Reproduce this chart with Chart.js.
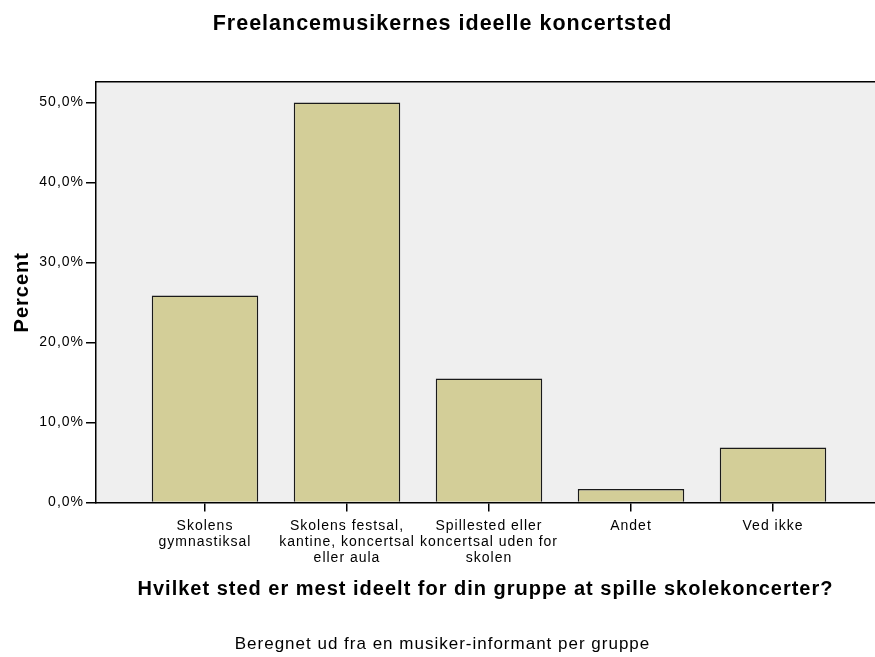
<!DOCTYPE html>
<html>
<head>
<meta charset="utf-8">
<script src="https://cdn.jsdelivr.net/npm/chart.js@4/dist/chart.umd.min.js"></script>
<style>
  html, body { margin: 0; padding: 0; background: #fff; overflow: hidden; }
  #wrap { width: 875px; height: 657px; }
</style>
</head>
<body>
<div id="wrap"><canvas id="chart"></canvas></div>
<script>
let categories = [
    ["Skolens", "gymnastiksal"],
    ["Skolens festsal,", "kantine, koncertsal", "eller aula"],
    ["Spillested eller", "koncertsal uden for", "skolen"],
    ["Andet"],
    ["Ved ikke"]
];
let positions = [1, 2, 3, 4, 5];
let percentValues = [25.9, 50.0, 15.5, 1.7, 6.9];
let yTicks = [0, 10, 20, 30, 40, 50];

let fontFamily = "'Liberation Sans', Arial, sans-serif";

// the reference text is a bit wider than Liberation Sans, so space the letters
let letterSpacing = {
    id: 'letterSpacing',
    beforeUpdate(chart) { chart.ctx.letterSpacing = '1px'; },
    beforeDraw(chart) { chart.ctx.letterSpacing = '1px'; }
};

// grey plot background + top border
let plotBackground = {
    id: 'plotBackground',
    beforeDraw(chart) {
        let ctx = chart.ctx;
        let a = chart.chartArea;
        ctx.save();
        ctx.fillStyle = '#efefef';
        ctx.fillRect(a.left, a.top, a.right - a.left, a.bottom - a.top);
        ctx.strokeStyle = '#000';
        ctx.lineWidth = 1.5;
        ctx.beginPath();
        ctx.moveTo(a.left, a.top);
        ctx.lineTo(a.right, a.top);
        ctx.stroke();
        ctx.restore();
    }
};

window.onload = function() {
    let ctx = document.getElementById("chart").getContext("2d");
    new Chart(ctx, {
        type: 'bar',
        data: {
            datasets: [{
                label: 'Percent',
                data: positions.map((p, i) => ({ x: p, y: percentValues[i] })),
                backgroundColor: '#d3ce98',
                borderColor: '#1a1a1a',
                borderWidth: 1.5,
                barPercentage: 0.75,
                categoryPercentage: 1
            }]
        },
        options: {
            responsive: true,
            maintainAspectRatio: false,
            animation: false,
            layout: { padding: { left: 10, right: 0, top: 0, bottom: 0 } },
            plugins: {
                legend: { display: false },
                tooltip: { enabled: false },
                title: {
                    display: true,
                    text: 'Freelancemusikernes ideelle koncertsted',
                    color: '#000',
                    font: { family: fontFamily, size: 21.5, weight: 'bold', lineHeight: 1.2 },
                    padding: { top: 11, bottom: 45 }
                },
                subtitle: {
                    display: true,
                    position: 'bottom',
                    text: 'Beregnet ud fra en musiker-informant per gruppe',
                    color: '#000',
                    font: { family: fontFamily, size: 17, lineHeight: 1.2 },
                    padding: { top: 12, bottom: 2 }
                }
            },
            scales: {
                x: {
                    type: 'linear',
                    min: 1 - 109 / 142,
                    max: 1 + (875 - 205) / 142,
                    offset: false,
                    afterBuildTicks: function(scale) {
                        scale.ticks = positions.map(p => ({ value: p }));
                    },
                    afterFit: function(scale) { scale.height = 120; },
                    ticks: {
                        autoSkip: false,
                        maxRotation: 0,
                        color: '#000',
                        padding: 6,
                        font: { family: fontFamily, size: 14, lineHeight: 1.15 },
                        callback: function(value) {
                            let i = positions.indexOf(value);
                            return i >= 0 ? categories[i] : '';
                        }
                    },
                    grid: {
                        offset: false,
                        drawOnChartArea: false,
                        drawTicks: true,
                        tickLength: 9,
                        color: '#000',
                        lineWidth: 1.5
                    },
                    border: { display: true, color: '#000', width: 1.5 },
                    title: {
                        display: true,
                        text: 'Hvilket sted er mest ideelt for din gruppe at spille skolekoncerter?',
                        color: '#000',
                        font: { family: fontFamily, size: 20, weight: 'bold', lineHeight: 1.2 },
                        padding: { top: 0, bottom: 21 }
                    }
                },
                y: {
                    min: 0,
                    max: 52.6,
                    afterBuildTicks: function(scale) {
                        scale.ticks = yTicks.map(v => ({ value: v }));
                    },
                    afterFit: function(scale) { scale.width = 86; },
                    ticks: {
                        color: '#000',
                        padding: 2,
                        font: { family: fontFamily, size: 14 },
                        callback: function(value) {
                            return value.toFixed(1).replace('.', ',') + '%';
                        }
                    },
                    grid: {
                        drawOnChartArea: false,
                        drawTicks: true,
                        tickLength: 10,
                        color: '#000',
                        lineWidth: 1.5
                    },
                    border: { display: true, color: '#000', width: 1.5 },
                    title: {
                        display: true,
                        text: 'Percent',
                        color: '#000',
                        font: { family: fontFamily, size: 20, weight: 'bold' },
                        padding: { top: 0, bottom: 0 }
                    }
                }
            }
        },
        plugins: [letterSpacing, plotBackground]
    });
};
</script>
</body>
</html>
